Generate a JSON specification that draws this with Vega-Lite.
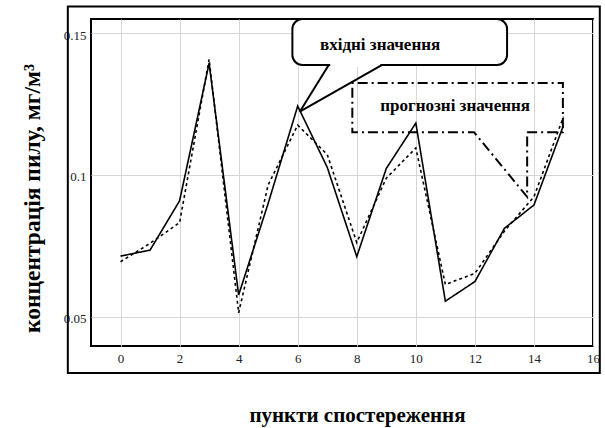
{
  "$schema": "https://vega.github.io/schema/vega-lite/v6.json",
  "width": 502,
  "height": 327,
  "autosize": {"type": "none"},
  "padding": {"left": 91, "top": 19, "right": 12, "bottom": 82},
  "background": "white",
  "config": {
    "view": {"stroke": "black", "strokeWidth": 2},
    "font": "'Liberation Serif', 'Times New Roman', 'DejaVu Serif', serif"
  },
  "datasets": {
    "series": [
      {"x": 0, "y": 0.0714, "s": "вхідні"},
      {"x": 1, "y": 0.0735, "s": "вхідні"},
      {"x": 2, "y": 0.0909, "s": "вхідні"},
      {"x": 3, "y": 0.1394, "s": "вхідні"},
      {"x": 4, "y": 0.0577, "s": "вхідні"},
      {"x": 5, "y": 0.0900, "s": "вхідні"},
      {"x": 6, "y": 0.1243, "s": "вхідні"},
      {"x": 7, "y": 0.1027, "s": "вхідні"},
      {"x": 8, "y": 0.0712, "s": "вхідні"},
      {"x": 9, "y": 0.1023, "s": "вхідні"},
      {"x": 10, "y": 0.1183, "s": "вхідні"},
      {"x": 11, "y": 0.0555, "s": "вхідні"},
      {"x": 12, "y": 0.0624, "s": "вхідні"},
      {"x": 13, "y": 0.0812, "s": "вхідні"},
      {"x": 14, "y": 0.0894, "s": "вхідні"},
      {"x": 15, "y": 0.1175, "s": "вхідні"},
      {"x": 0, "y": 0.0694, "s": "прогнозні"},
      {"x": 1, "y": 0.0759, "s": "прогнозні"},
      {"x": 2, "y": 0.0832, "s": "прогнозні"},
      {"x": 3, "y": 0.1408, "s": "прогнозні"},
      {"x": 4, "y": 0.0514, "s": "прогнозні"},
      {"x": 5, "y": 0.0965, "s": "прогнозні"},
      {"x": 6, "y": 0.1176, "s": "прогнозні"},
      {"x": 7, "y": 0.1072, "s": "прогнозні"},
      {"x": 8, "y": 0.0762, "s": "прогнозні"},
      {"x": 9, "y": 0.0989, "s": "прогнозні"},
      {"x": 10, "y": 0.1095, "s": "прогнозні"},
      {"x": 11, "y": 0.0614, "s": "прогнозні"},
      {"x": 12, "y": 0.0653, "s": "прогнозні"},
      {"x": 13, "y": 0.0802, "s": "прогнозні"},
      {"x": 14, "y": 0.0923, "s": "прогнозні"},
      {"x": 15, "y": 0.1205, "s": "прогнозні"}
    ],
    "frame": [{"x": -1.785, "x2": 16.23, "y": 0.0302, "y2": 0.1594}],
    "box1": [{"x": 5.82, "x2": 13.09, "y": 0.1388, "y2": 0.155}],
    "gap1": [{"x": 7.1, "x2": 8.8, "y": 0.1388}],
    "ptr1": [
      {"i": 0, "x": 7.05, "y": 0.1388},
      {"i": 1, "x": 6.07, "y": 0.1223},
      {"i": 2, "x": 8.86, "y": 0.1388}
    ],
    "box2": [
      {"i": 0, "x": 13.77, "y": 0.1151},
      {"i": 1, "x": 14.98, "y": 0.1151},
      {"i": 2, "x": 14.98, "y": 0.1324},
      {"i": 3, "x": 7.85, "y": 0.1324},
      {"i": 4, "x": 7.85, "y": 0.1151},
      {"i": 5, "x": 11.97, "y": 0.1151},
      {"i": 6, "x": 13.77, "y": 0.0923},
      {"i": 7, "x": 13.77, "y": 0.1151}
    ],
    "labels": [
      {"x": 8.79, "y": 0.1459, "t": "вхідні значення"},
      {"x": 11.33, "y": 0.1243, "t": "прогнозні значення"}
    ]
  },
  "layer": [
    {
      "data": {"name": "series"},
      "mark": {"type": "line", "color": "black", "strokeWidth": 1.6},
      "encoding": {
        "x": {
          "field": "x", "type": "quantitative",
          "scale": {"domain": [-1, 16], "nice": false, "zero": false},
          "axis": {
            "values": [0, 2, 4, 6, 8, 10, 12, 14, 16],
            "grid": true, "gridColor": "#d6d6d6", "gridWidth": 1,
            "domain": false, "ticks": false,
            "labelFont": "'Liberation Serif', 'Times New Roman', serif", "labelFontSize": 13, "labelColor": "#222",
            "labelPadding": 6, "labelFlush": false,
            "title": "пункти спостереження",
            "titleFont": "'Liberation Serif', 'Times New Roman', serif", "titleFontSize": 21, "titleFontWeight": "bold",
            "titleColor": "black",
            "titleX": 266, "titleY": 75, "titleAlign": "center", "titleBaseline": "alphabetic"
          }
        },
        "y": {
          "field": "y", "type": "quantitative",
          "scale": {"domain": [0.0397, 0.155], "nice": false, "zero": false},
          "axis": {
            "values": [0.05, 0.1, 0.15],
            "labelExpr": "datum.value == 0.1 ? '0.1' : format(datum.value, '.2f')",
            "grid": true, "gridColor": "#d6d6d6", "gridWidth": 1,
            "domain": false, "ticks": false,
            "labelFont": "'Liberation Serif', 'Times New Roman', serif", "labelFontSize": 13, "labelColor": "#222",
            "labelPadding": 5, "labelOffset": 2,
            "title": "концентрація пилу, мг/м³",
            "titleFont": "'Liberation Serif', 'Times New Roman', serif", "titleFontSize": 23.5, "titleFontWeight": "bold",
            "titleColor": "black", "titleAngle": -90,
            "titleX": -52, "titleY": 179, "titleAlign": "center", "titleBaseline": "alphabetic"
          }
        },
        "strokeDash": {
          "field": "s", "type": "nominal",
          "scale": {"domain": ["вхідні", "прогнозні"], "range": [[1, 0], [3, 3]]},
          "legend": null
        }
      }
    },
    {
      "data": {"name": "frame"},
      "mark": {"type": "rect", "fill": null, "fillOpacity": 0, "stroke": "black", "strokeWidth": 2},
      "encoding": {
        "x": {"field": "x", "type": "quantitative", "scale": {"domain": [-1, 16], "nice": false, "zero": false}},
        "x2": {"field": "x2"},
        "y": {"field": "y", "type": "quantitative", "scale": {"domain": [0.0397, 0.155], "nice": false, "zero": false}},
        "y2": {"field": "y2"}
      }
    },
    {
      "data": {"name": "box1"},
      "mark": {"type": "rect", "fill": "white", "stroke": "black", "strokeWidth": 2, "cornerRadius": 10},
      "encoding": {
        "x": {"field": "x", "type": "quantitative", "scale": {"domain": [-1, 16], "nice": false, "zero": false}},
        "x2": {"field": "x2"},
        "y": {"field": "y", "type": "quantitative", "scale": {"domain": [0.0397, 0.155], "nice": false, "zero": false}},
        "y2": {"field": "y2"}
      }
    },
    {
      "data": {"name": "gap1"},
      "mark": {"type": "rule", "color": "white", "strokeWidth": 4},
      "encoding": {
        "x": {"field": "x", "type": "quantitative", "scale": {"domain": [-1, 16], "nice": false, "zero": false}},
        "x2": {"field": "x2"},
        "y": {"field": "y", "type": "quantitative", "scale": {"domain": [0.0397, 0.155], "nice": false, "zero": false}}
      }
    },
    {
      "data": {"name": "ptr1"},
      "mark": {"type": "line", "color": "black", "strokeWidth": 2},
      "encoding": {
        "x": {"field": "x", "type": "quantitative", "scale": {"domain": [-1, 16], "nice": false, "zero": false}},
        "y": {"field": "y", "type": "quantitative", "scale": {"domain": [0.0397, 0.155], "nice": false, "zero": false}},
        "order": {"field": "i", "type": "quantitative"}
      }
    },
    {
      "data": {"name": "box2"},
      "mark": {"type": "line", "color": "black", "strokeWidth": 2, "strokeDash": [10, 4, 2, 4]},
      "encoding": {
        "x": {"field": "x", "type": "quantitative", "scale": {"domain": [-1, 16], "nice": false, "zero": false}},
        "y": {"field": "y", "type": "quantitative", "scale": {"domain": [0.0397, 0.155], "nice": false, "zero": false}},
        "order": {"field": "i", "type": "quantitative"}
      }
    },
    {
      "data": {"name": "labels"},
      "mark": {"type": "text", "font": "'Liberation Serif', 'Times New Roman', serif", "fontSize": 17, "fontWeight": "bold", "color": "black", "align": "center", "baseline": "middle"},
      "encoding": {
        "x": {"field": "x", "type": "quantitative", "scale": {"domain": [-1, 16], "nice": false, "zero": false}},
        "y": {"field": "y", "type": "quantitative", "scale": {"domain": [0.0397, 0.155], "nice": false, "zero": false}},
        "text": {"field": "t"}
      }
    }
  ]
}
